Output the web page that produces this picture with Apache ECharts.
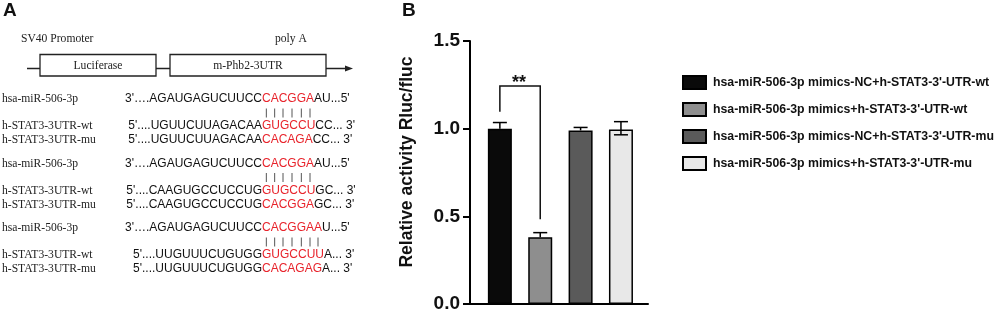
<!DOCTYPE html>
<html>
<head>
<meta charset="utf-8">
<script src="https://cdn.jsdelivr.net/npm/echarts@6.0.0/dist/echarts.min.js"></script>
<style>
html, body { margin: 0; padding: 0; background: #fff; }
#main { width: 996px; height: 313px; }
</style>
</head>
<body>
<div id="main"></div>
<script>
// panel B data
var groups = [
	"hsa-miR-506-3p mimics-NC+h-STAT3-3'-UTR-wt",
	"hsa-miR-506-3p mimics+h-STAT3-3'-UTR-wt",
	"hsa-miR-506-3p mimics-NC+h-STAT3-3'-UTR-mu",
	"hsa-miR-506-3p mimics+h-STAT3-3'-UTR-mu"
];
var means = [1.00, 0.38, 0.99, 0.995];
var errUp = [0.035, 0.027, 0.017, 0.045];
var errDown = [0, 0, 0, 0.03];
var barColors = ['#0a0a0a', '#8e8e8e', '#5a5a5a', '#e8e8e8'];
var yTicks = [0, 0.5, 1.0, 1.5];
var sigPair = [0, 1];
var sigLevels = [1.097, 1.243, 0.483];
var sigText = '**';

// panel A text
var rowLabels = ['hsa-miR-506-3p', 'h-STAT3-3UTR-wt', 'h-STAT3-3UTR-mu'];
var seqHead = [
	["3'….AGAUGAGUCUUCC", "5'....UGUUCUUAGACAA", "5'....UGUUCUUAGACAA"],
	["3'….AGAUGAGUCUUCC", "5'....CAAGUGCCUCCUG", "5'....CAAGUGCCUCCUG"],
	["3'….AGAUGAGUCUUCC", "5'....UUGUUUCUGUGG", "5'....UUGUUUCUGUGG"]
];
var seqRed = [
	["CACGGA", "GUGCCU", "CACAGA"],
	["CACGGA", "GUGCCU", "CACGGA"],
	["CACGGAA", "GUGCCUU", "CACAGAG"]
];
var seqTail = [
	["AU...5'", "CC... 3'", "CC... 3'"],
	["AU...5'", "GC... 3'", "GC... 3'"],
	["U...5'", "A... 3'", "A... 3'"]
];

var SANS = '"Liberation Sans", Arial, sans-serif';
var SERIF = '"Liberation Serif", "Times New Roman", serif';
var ink = '#111';

var measureCtx = document.createElement('canvas').getContext('2d');
function textW(str, font) {
	measureCtx.font = font;
	return measureCtx.measureText(str).width;
}

// x positions of the bars on the value axis
var xMax = 4.41;
var xPos = groups.map(function(g, i) { return i + 0.74; });

function buildPanelA() {
	var els = [];
	var serifFont = '11.6px ' + SERIF;
	var seqFont = '12px ' + SANS;
	els.push({ type: 'text', x: 3, y: 1, style: { text: 'A', font: 'bold 19px ' + SANS, fill: ink } });
	els.push({ type: 'text', x: 402, y: 1, style: { text: 'B', font: 'bold 19px ' + SANS, fill: ink } });

	els.push({ type: 'text', x: 21, y: 38.5, style: { text: 'SV40 Promoter', font: serifFont, fill: '#222', verticalAlign: 'middle' } });
	els.push({ type: 'text', x: 275, y: 38.5, style: { text: 'poly A', font: serifFont, fill: '#222', verticalAlign: 'middle' } });
	els.push({ type: 'line', shape: { x1: 27, y1: 68.5, x2: 346, y2: 68.5 }, style: { stroke: '#222', lineWidth: 1.3 } });
	els.push({ type: 'polygon', shape: { points: [[345, 65.5], [353, 68.5], [345, 71.5]] }, style: { fill: '#222' } });
	els.push({ type: 'rect', shape: { x: 40, y: 54.5, width: 116, height: 21.5 }, style: { fill: '#fff', stroke: '#222', lineWidth: 1.3 } });
	els.push({ type: 'rect', shape: { x: 170, y: 54.5, width: 156, height: 21.5 }, style: { fill: '#fff', stroke: '#222', lineWidth: 1.3 } });
	els.push({ type: 'text', x: 98, y: 65.5, style: { text: 'Luciferase', font: serifFont, fill: '#222', align: 'center', verticalAlign: 'middle' } });
	els.push({ type: 'text', x: 248, y: 65.5, style: { text: 'm-Phb2-3UTR', font: serifFont, fill: '#222', align: 'center', verticalAlign: 'middle' } });

	var groupTop = [99, 163.5, 228];
	var rowOff = [0, 27, 41];
	var redX = 262;
	for (var g = 0; g < groupTop.length; g++) {
		for (var r = 0; r < 3; r++) {
			var y = groupTop[g] + rowOff[r];
			els.push({ type: 'text', x: 2, y: y, style: { text: rowLabels[r], font: serifFont, fill: '#222', verticalAlign: 'middle' } });
			var head = seqHead[g][r], red = seqRed[g][r], tail = seqTail[g][r];
			var hw = textW(head, seqFont), rw = textW(red, seqFont);
			els.push({ type: 'text', x: redX - hw, y: y, style: { text: head, font: seqFont, fill: ink, verticalAlign: 'middle' } });
			els.push({ type: 'text', x: redX, y: y, style: { text: red, font: seqFont, fill: '#e8232b', verticalAlign: 'middle' } });
			els.push({ type: 'text', x: redX + rw, y: y, style: { text: tail, font: seqFont, fill: ink, verticalAlign: 'middle' } });
		}
		// base pairing marks under the miRNA seed
		var seed = seqRed[g][0];
		var py = groupTop[g] + 14;
		for (var k = 0; k < seed.length; k++) {
			var cx = redX + textW(seed.substr(0, k), seqFont) + textW(seed.charAt(k), seqFont) / 2;
			els.push({ type: 'line', shape: { x1: cx, y1: py - 4.5, x2: cx, y2: py + 4.5 }, style: { stroke: '#555', lineWidth: 1 } });
		}
	}

	els.push({
		type: 'text', x: 407, y: 162, rotation: Math.PI / 2,
		style: { text: 'Relative activity Rluc/fluc', font: 'bold 17.5px ' + SANS, fill: ink, align: 'center', verticalAlign: 'middle' }
	});
	return els;
}

var chart = echarts.init(document.getElementById('main'), null, { renderer: 'canvas' });

var series = groups.map(function(name, i) {
	return {
		type: 'bar',
		name: name,
		data: [[xPos[i], means[i]]],
		barWidth: 24,
		barGap: '-100%',
		itemStyle: { color: barColors[i], borderColor: '#000', borderWidth: 1.5 },
		z: 2
	};
});

series.push({
	type: 'custom',
	name: 'err',
	z: 5,
	data: means.map(function(m, i) { return [xPos[i], m, errUp[i], errDown[i]]; }),
	renderItem: function(params, api) {
		var x = api.value(0), m = api.value(1), up = api.value(2), dn = api.value(3);
		var top = api.coord([x, m + up]);
		var bot = api.coord([x, m - dn]);
		var st = { stroke: '#000', lineWidth: 1.5 };
		var kids = [
			{ type: 'line', shape: { x1: top[0], y1: top[1], x2: bot[0], y2: bot[1] }, style: st },
			{ type: 'line', shape: { x1: top[0] - 7, y1: top[1], x2: top[0] + 7, y2: top[1] }, style: st }
		];
		if (dn > 0) {
			kids.push({ type: 'line', shape: { x1: bot[0] - 7, y1: bot[1], x2: bot[0] + 7, y2: bot[1] }, style: st });
		}
		return { type: 'group', children: kids };
	}
});

series.push({
	type: 'custom',
	name: 'sig',
	z: 5,
	data: [[xPos[sigPair[0]], xPos[sigPair[1]]]],
	renderItem: function(params, api) {
		var xa = api.value(0), xb = api.value(1);
		var p1 = api.coord([xa, sigLevels[0]]);
		var p2 = api.coord([xa, sigLevels[1]]);
		var p3 = api.coord([xb, sigLevels[1]]);
		var p4 = api.coord([xb, sigLevels[2]]);
		return {
			type: 'group',
			children: [
				{ type: 'polyline', shape: { points: [p1, p2, p3, p4] }, style: { stroke: '#111', lineWidth: 1.5, fill: null } },
				{ type: 'text', x: (p2[0] + p3[0]) / 2 - 1, y: p2[1] + 6, style: { text: sigText, font: 'bold 18px ' + SANS, fill: ink, align: 'center', verticalAlign: 'bottom' } }
			]
		};
	}
});

var option = {
	backgroundColor: '#fff',
	animation: false,
	grid: { left: 470, top: 41, width: 178, height: 263, containLabel: false, outerBoundsMode: 'none' },
	xAxis: {
		type: 'value', min: 0, max: xMax,
		axisLine: { show: true, lineStyle: { color: '#000', width: 2 } },
		axisTick: { show: false }, axisLabel: { show: false }, splitLine: { show: false }
	},
	yAxis: {
		type: 'value', min: yTicks[0], max: yTicks[yTicks.length - 1], interval: 0.5,
		axisLine: { show: true, lineStyle: { color: '#000', width: 2 } },
		axisTick: { show: true, length: 7, lineStyle: { color: '#000', width: 2 } },
		axisLabel: {
			margin: 10, color: ink, fontSize: 19, fontWeight: 'bold', fontFamily: SANS,
			formatter: function(v) { return v.toFixed(1); }
		},
		splitLine: { show: false }
	},
	legend: {
		data: groups,
		orient: 'vertical',
		left: 682, top: 75,
		padding: 0,
		itemWidth: 23, itemHeight: 13, itemGap: 12,
		icon: 'rect',
		selectedMode: false,
		textStyle: { color: ink, fontSize: 12.3, fontWeight: 'bold', fontFamily: SANS, padding: [0, 0, 0, 2] }
	},
	graphic: buildPanelA(),
	series: series
};

chart.setOption(option);
</script>
</body>
</html>
